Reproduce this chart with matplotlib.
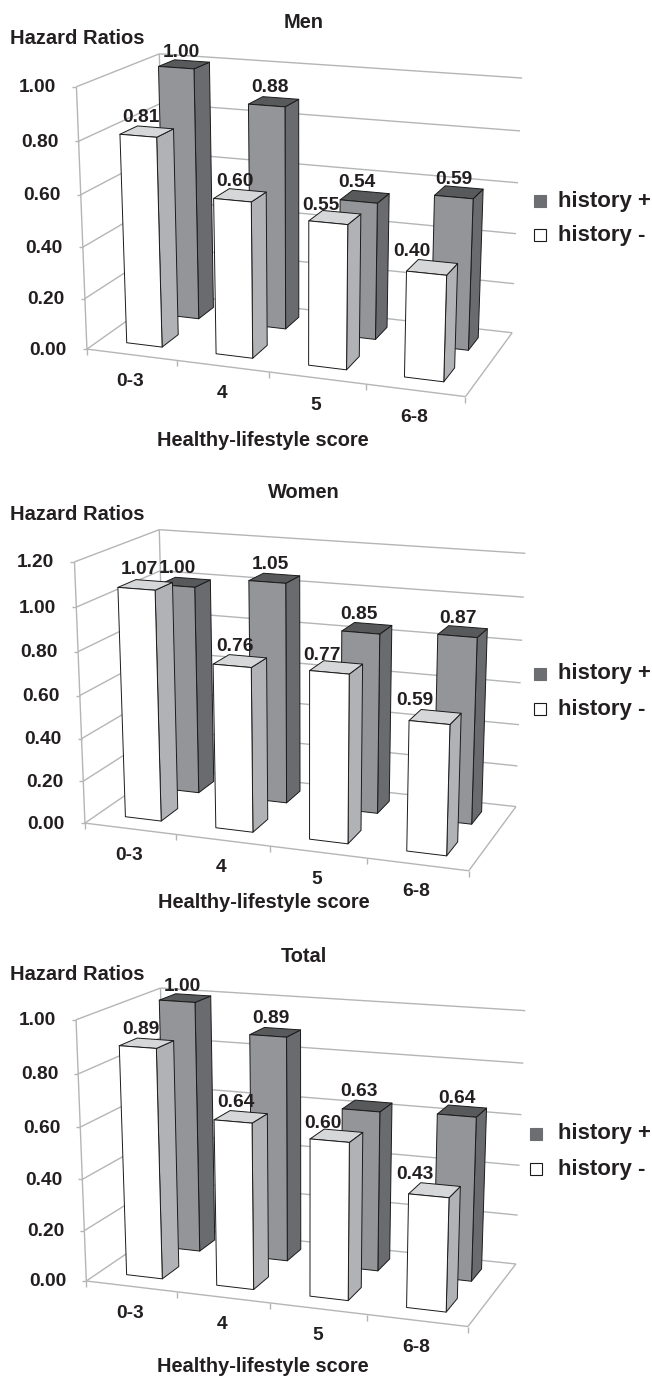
import numpy as np
import matplotlib
matplotlib.use("Agg")
import matplotlib.pyplot as plt
from matplotlib.patches import Polygon, Rectangle

plt.rcParams['font.family'] = ['Liberation Sans', 'DejaVu Sans']

# ---- data ----
categories = ["0-3", "4", "5", "6-8"]
panel_titles = ["Men", "Women", "Total"]
men_history_pos = [1.00, 0.88, 0.54, 0.59]
men_history_neg = [0.81, 0.60, 0.55, 0.40]
women_history_pos = [1.00, 1.05, 0.85, 0.87]
women_history_neg = [1.07, 0.76, 0.77, 0.59]
total_history_pos = [1.00, 0.89, 0.63, 0.64]
total_history_neg = [0.89, 0.64, 0.60, 0.43]
men_ticks = [0.0, 0.2, 0.4, 0.6, 0.8, 1.0]
women_ticks = [0.0, 0.2, 0.4, 0.6, 0.8, 1.0, 1.2]
total_ticks = [0.0, 0.2, 0.4, 0.6, 0.8, 1.0]
legend_labels = ["history +", "history -"]
y_title = "Hazard Ratios"
x_title = "Healthy-lifestyle score"

# ---- style ----
INK = "#231f20"
GRID = "#b4b5b7"
FS = 13.8
FS_TITLE = 14.4
FS_YTITLE = 14.5
FS_LEGEND = 16.0
POS = dict(front="#939598", side="#6a6b6e", top="#58595b")
NEG = dict(front="#ffffff", side="#b0b2b5", top="#d6d7d9")

# ---- layout: box corners in figure pixels, order FLB FRB BLB BRB FLT FRT BLT BRT ----
layouts = [
    dict(box=[(87, 348), (466, 397), (165, 295), (512, 332), (76, 85), (474, 119), (160, 55), (522, 76)],
         title=(303.5, 22), ylab=38, xlab=(263, 440), leg_y=(201, 235), leg_x=534,
         nudge_pos=[(-3, -12), (-4, -14), (-8, -14), (-5, -13)],
         nudge_neg=[(-6, -14), (-5, -14), (-14, -12), (-20, -16)]),
    dict(box=[(85, 822), (469, 871), (165, 769), (516, 806), (74, 560), (477, 594), (160, 531), (525, 551)],
         title=(303.5, 492), ylab=514, xlab=(264, 903), leg_y=(674, 709), leg_x=534,
         nudge_pos=[(-8, -14), (-4, -14), (-8, -14), (-5, -13)],
         nudge_neg=[(-6, -15), (-5, -14), (-14, -12), (-20, -16)]),
    dict(box=[(86.5, 1279), (468, 1328), (166, 1229), (516, 1262), (75.7, 1018), (476, 1050), (161, 989), (525, 1009)],
         title=(303.5, 956), ylab=974, xlab=(263, 1367), leg_y=(1134, 1169), leg_x=530,
         nudge_pos=[(-3, -12), (-4, -14), (-8, -14), (-5, -13)],
         nudge_neg=[(-6, -14), (-5, -14), (-14, -12), (-20, -16)]),
]
BAR_HALF = 0.05
ROW_V = (0.16, 0.37, 0.65, 0.86)   # depth ranges: front row, back row


def fit_camera(box):
    """Fit a projective camera from the 8 box corners (u, v, w)."""
    cube = [(u, v, w) for w in (0, 1) for v in (0, 1) for u in (0, 1)]
    A, b = [], []
    for (u, v, w), (x, y) in zip(cube, box):
        A.append([u, v, w, 1, 0, 0, 0, 0, -x * u, -x * v, -x * w]); b.append(x)
        A.append([0, 0, 0, 0, u, v, w, 1, -y * u, -y * v, -y * w]); b.append(y)
    p = np.linalg.lstsq(np.array(A, float), np.array(b, float), rcond=None)[0]
    return np.append(p, 1.0).reshape(3, 4)


def project(P, u, v, w):
    h = P @ np.array([u, v, w, 1.0])
    return h[0] / h[2], h[1] / h[2]


fig = plt.figure(figsize=(6.52, 13.76), dpi=100)
ax = fig.add_axes([0, 0, 1, 1])
ax.set_xlim(0, 652)
ax.set_ylim(1376, 0)
ax.axis("off")


def seg(a, b, color=GRID, lw=1.0, z=1):
    ax.plot([a[0], b[0]], [a[1], b[1]], color=color, lw=lw, zorder=z, solid_capstyle="butt")


def draw_bar(P, i, val, ymax, rows, col, z):
    c = (i + 0.5) / 4
    u0, u1 = c - BAR_HALF, c + BAR_HALF
    v0, v1 = rows
    w = val / ymax
    pr = lambda u, v, t: project(P, u, v, t)
    faces = [
        ([pr(u1, v0, 0), pr(u1, v1, 0), pr(u1, v1, w), pr(u1, v0, w)], col["side"]),
        ([pr(u0, v0, w), pr(u1, v0, w), pr(u1, v1, w), pr(u0, v1, w)], col["top"]),
        ([pr(u0, v0, 0), pr(u1, v0, 0), pr(u1, v0, w), pr(u0, v0, w)], col["front"]),
    ]
    for pts, fc in faces:
        ax.add_patch(Polygon(pts, closed=True, facecolor=fc, edgecolor="#1a1a1a", lw=0.7,
                             joinstyle="round", zorder=z))
    return pr(c, (v0 + v1) / 2, w)


def draw_panel(L, title, pos, neg, ticks):
    P = fit_camera(L["box"])
    ymax = ticks[-1]
    # walls and floor
    for t in ticks:
        w = t / ymax
        a, b, c = project(P, 0, 0, w), project(P, 0, 1, w), project(P, 1, 1, w)
        seg(a, b)
        seg(b, c)
        seg((a[0] - 4, a[1]), a)
        ax.text(a[0] - 20, a[1] + 1, f"{t:.2f}", ha="right", va="center", fontsize=FS,
                fontweight="bold", color=INK, zorder=5)
    seg(project(P, 0, 0, 0), project(P, 0, 0, 1))
    seg(project(P, 0, 1, 0), project(P, 0, 1, 1))
    seg(project(P, 0, 0, 0), project(P, 1, 0, 0))
    seg(project(P, 1, 0, 0), project(P, 1, 1, 0))
    for k in range(5):
        a = project(P, k / 4, 0, 0)
        seg(a, (a[0], a[1] + 6))
    for i, cat in enumerate(categories):
        a = project(P, (i + 0.5) / 4, 0, 0)
        ax.text(a[0] - 1, a[1] + 27, cat, ha="center", va="center", fontsize=FS,
                fontweight="bold", color=INK, zorder=5)
    # bars: back row first
    for row, vals, col, nudges, z in ((ROW_V[2:], pos, POS, L["nudge_pos"], 2),
                                      (ROW_V[:2], neg, NEG, L["nudge_neg"], 3)):
        for i, val in enumerate(vals):
            top = draw_bar(P, i, val, ymax, row, col, z)
            ax.text(top[0] + nudges[i][0], top[1] + nudges[i][1], f"{val:.2f}", ha="center",
                    va="center", fontsize=FS, fontweight="bold", color=INK, zorder=6)
    # titles
    ax.text(*L["title"], title, ha="center", va="center", fontsize=FS_TITLE, fontweight="bold", color=INK)
    ax.text(10, L["ylab"], y_title, ha="left", va="center", fontsize=FS_YTITLE, fontweight="bold", color=INK)
    ax.text(*L["xlab"], x_title, ha="center", va="center", fontsize=FS_TITLE, fontweight="bold", color=INK)
    # legend
    for y, label, fc in zip(L["leg_y"], legend_labels, (POS["front"], NEG["front"])):
        ax.add_patch(Rectangle((L["leg_x"], y - 6), 12, 12, facecolor=("#6d6e71" if fc == POS["front"] else fc),
                               edgecolor=("#6d6e71" if fc == POS["front"] else "#1a1a1a"), lw=0.8))
        ax.text(558, y, label, ha="left", va="center", fontsize=FS_LEGEND, fontweight="bold", color=INK)


draw_panel(layouts[0], panel_titles[0], men_history_pos, men_history_neg, men_ticks)
draw_panel(layouts[1], panel_titles[1], women_history_pos, women_history_neg, women_ticks)
draw_panel(layouts[2], panel_titles[2], total_history_pos, total_history_neg, total_ticks)

fig.savefig("out.png", dpi=100)
